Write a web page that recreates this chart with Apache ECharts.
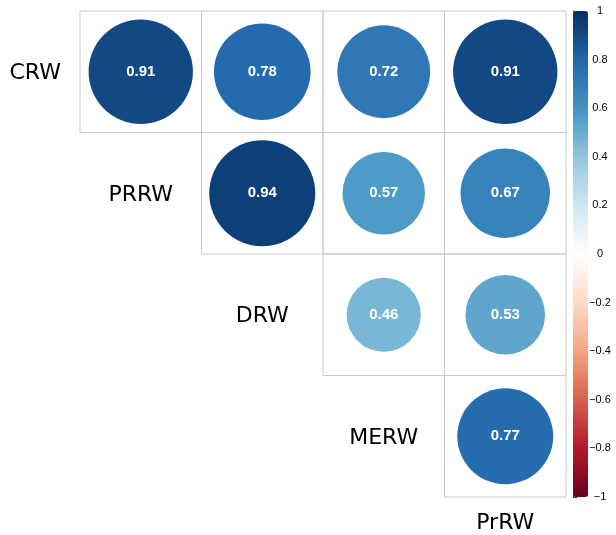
<!DOCTYPE html>
<html>
<head>
<meta charset="utf-8">
<script src="https://cdn.jsdelivr.net/npm/echarts@6/dist/echarts.min.js"></script>
<style>
  html, body { margin: 0; padding: 0; background: #fff; }
  #chart { width: 616px; height: 535px; }
</style>
</head>
<body>
<div id="chart"></div>
<script>
// 行、列变量名
const rowNames = ["CRW", "PRRW", "DRW", "MERW"];
const colNames = ["PRRW", "DRW", "MERW", "PrRW"];
// 相关系数（上三角，null 为空白）
const corrRows = [
  [0.91, 0.78, 0.72, 0.91],
  [null, 0.94, 0.57, 0.67],
  [null, null, 0.46, 0.53],
  [null, null, null, 0.77],
];
// 色条刻度
const legendTicks = [-1, -0.8, -0.6, -0.4, -0.2, 0, 0.2, 0.4, 0.6, 0.8, 1];
const rdbu = ["#67001F", "#B2182B", "#D6604D", "#F4A582", "#FDDBC7", "#FFFFFF",
  "#D1E5F0", "#92C5DE", "#4393C3", "#2166AC", "#053061"];

const gridLeft = 80, gridTop = 11, gridSize = 486;
const cell = gridSize / 4;

const cells = [];
const circles = [];
corrRows.forEach((row, r) => {
  row.forEach((v, c) => {
    if (v === null) return;
    cells.push([c, r]);
    circles.push([c, r, v]);
  });
});

// 对角线上的变量名
const diagLabels = rowNames.map((name, r) => [r - 1, r, name]);
diagLabels.push([3, 4, colNames[3]]);

const myChart = echarts.init(document.getElementById("chart"));
myChart.setOption({
  animation: false,
  grid: [
    { left: gridLeft, top: gridTop, width: gridSize, height: gridSize },
    { left: 573, top: gridTop, width: 15, height: gridSize },
  ],
  xAxis: [
    { gridIndex: 0, type: "value", min: -0.5, max: 3.5, show: false },
    { gridIndex: 1, type: "value", min: 0, max: 1, show: false },
  ],
  yAxis: [
    { gridIndex: 0, type: "value", min: -0.5, max: 3.5, inverse: true, show: false },
    {
      gridIndex: 1, type: "value", min: -1, max: 1, interval: 0.2, position: "right",
      splitLine: { show: false },
      axisLine: { show: true, lineStyle: { color: "#333", width: 1 } },
      axisTick: { show: true, length: 4, lineStyle: { color: "#333" } },
      axisLabel: {
        margin: 12, align: "center", color: "#000", fontSize: 11,
        fontFamily: "Liberation Sans",
        formatter: (v) => {
          const t = legendTicks.find((x) => Math.abs(x - v) < 1e-6);
          return t === undefined ? "" : String(t).replace("-", "\u2212");
        },
      },
    },
  ],
  visualMap: {
    type: "continuous",
    min: -1, max: 1,
    seriesIndex: 1,
    dimension: 2,
    inRange: { color: rdbu },
    left: 573, top: gridTop,
    itemWidth: 15, itemHeight: gridSize,
    padding: 0,
    calculable: false,
    text: null,
    showLabel: false,
    orient: "vertical",
  },
  series: [
    {
      type: "scatter",
      xAxisIndex: 0, yAxisIndex: 0,
      symbol: "rect",
      symbolSize: cell,
      silent: true,
      itemStyle: { color: "rgba(0,0,0,0)", borderColor: "#c8c8c8", borderWidth: 1, opacity: 1 },
      data: cells,
      z: 1,
    },
    {
      type: "scatter",
      xAxisIndex: 0, yAxisIndex: 0,
      symbol: "circle",
      symbolSize: (d) => 0.9 * Math.sqrt(Math.abs(d[2])) * cell,
      data: circles,
      z: 2,
      itemStyle: { opacity: 1 },
      emphasis: { disabled: true },
      label: {
        show: true, position: "inside",
        formatter: (p) => p.value[2].toFixed(2),
        color: "#fff", fontWeight: "bold", fontSize: 15,
        fontFamily: "Liberation Sans",
      },
    },
    {
      type: "scatter",
      xAxisIndex: 0, yAxisIndex: 0,
      symbolSize: 0,
      clip: false,
      silent: true,
      itemStyle: { opacity: 1 },
      data: diagLabels.map((d, i) => ({
        value: d,
        label: {
          offset: i === 0 ? [16, 2] : i === 4 ? [0, -34] : [0, 2],
        },
      })),
      label: {
        show: true, position: "inside",
        formatter: (p) => p.value[2],
        color: "#000", fontSize: 22,
        fontFamily: "DejaVu Sans",
      },
      z: 3,
    },
  ],
});
</script>
</body>
</html>
